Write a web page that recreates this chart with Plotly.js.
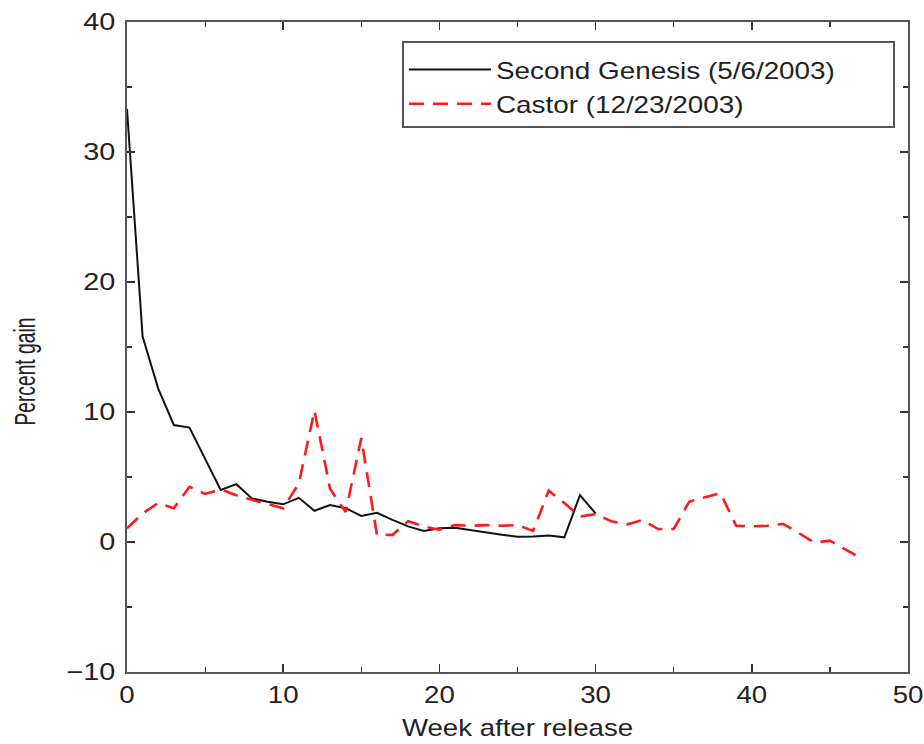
<!DOCTYPE html>
<html>
<head>
<meta charset="utf-8">
<script src="https://cdn.plot.ly/plotly-3.0.1.min.js"></script>
<style>html,body{margin:0;padding:0;background:#fff;}#chart{width:924px;height:744px;}</style>
</head>
<body>
<div id="chart"></div>
<script>
const genesisWeeks = [0,1,2,3,4,5,6,7,8,9,10,11,12,13,14,15,16,17,18,19,20,21,22,23,24,25,26,27,28,29,30];
const genesisGain  = [33.3,15.8,11.8,9.0,8.8,6.4,4.0,4.45,3.35,3.1,2.9,3.4,2.4,2.85,2.6,2.0,2.25,1.7,1.2,0.85,1.05,1.1,0.9,0.75,0.55,0.4,0.42,0.5,0.36,3.6,2.2];
const castorWeeks  = [0,1,2,3,4,5,6,7,8,9,10,11,12,13,14,15,16,17,18,19,20,21,22,23,24,25,26,27,28,29,30,31,32,33,34,35,36,37,38,39,40,41,42,43,44,45,46,47];
const castorGain   = [1.05,2.2,3.0,2.6,4.25,3.7,4.05,3.6,3.25,2.9,2.6,4.5,10.1,4.1,2.3,8.0,0.55,0.55,1.6,1.2,0.95,1.3,1.25,1.3,1.25,1.3,0.85,3.95,3.0,1.95,2.15,1.6,1.35,1.7,1.0,1.0,3.1,3.45,3.75,1.25,1.2,1.25,1.4,0.7,-0.05,0.1,-0.6,-1.25];
const seriesNames  = ["Second Genesis (5/6/2003)", "Castor (12/23/2003)"];
const xTitle = "Week after release";
const yTitle = "Percent gain";

const fam = "Liberation Sans, Arial, sans-serif";
const ink = "#222";
const tickFont = {family: fam, size: 24, color: ink};
const traces = [
  {x: genesisWeeks, y: genesisGain, name: seriesNames[0], mode: "lines",
   line: {color: "#111", width: 2}},
  {x: castorWeeks, y: castorGain, name: seriesNames[1], mode: "lines",
   line: {color: "#ff1a1a", width: 2.6, dash: "15px,9px"}}
];
const axisCommon = {
  showgrid: false, zeroline: false, showline: true, linecolor: "#555", linewidth: 2,
  mirror: "ticks", ticks: "inside", ticklen: 8, tickwidth: 1.5, tickcolor: "#333",
  tickfont: tickFont,
  minor: {ticks: "inside", ticklen: 5, tickwidth: 1.2, tickcolor: "#333", showgrid: false}
};
const layout = {
  width: 924, height: 744,
  margin: {l: 127, r: 16, t: 22, b: 72},
  paper_bgcolor: "#fff", plot_bgcolor: "#fff",
  font: tickFont,
  showlegend: true,
  legend: {x: 0.352, y: 0.964, xanchor: "left", yanchor: "top",
           bgcolor: "#fff", bordercolor: "#555", borderwidth: 2,
           font: {family: fam, size: 24, color: ink}, tracegroupgap: 0, itemwidth: 82},
  xaxis: Object.assign({}, axisCommon, {
    range: [0, 50], dtick: 10, minor: Object.assign({}, axisCommon.minor, {dtick: 5}),
    title: {text: xTitle, font: {family: fam, size: 24, color: ink}, standoff: 12}
  }),
  yaxis: Object.assign({}, axisCommon, {
    range: [-10, 40], dtick: 10, minor: Object.assign({}, axisCommon.minor, {dtick: 5}),
    ticklabelstandoff: 5
  }),
  annotations: [{
    text: yTitle, xref: "paper", yref: "paper", x: -0.1306, y: 0.4615,
    xanchor: "center", yanchor: "middle", textangle: -90, showarrow: false,
    font: {family: fam, size: 29, color: ink}
  }]
};

function stretch(selector, factor, fixedLen) {
  document.querySelectorAll(selector).forEach(function (t) {
    const len = t.getComputedTextLength();
    if (!len) return;
    t.setAttribute("lengthAdjust", "spacingAndGlyphs");
    t.setAttribute("textLength", fixedLen ? fixedLen : len * factor);
  });
}

Plotly.newPlot("chart", traces, layout, {displayModeBar: false, staticPlot: true}).then(function () {
  stretch("#chart .xtick text", 1.15);
  stretch("#chart .ytick text", 1.2);
  stretch("#chart .g-xtitle text", 1.15);
  stretch("#chart .annotation-text", 1, 108);
  stretch("#chart .legend text.legendtext", 1.16);
  // widen the legend frame so the stretched labels fit, like the original box
  const boxW = 491, boxH = 85;
  document.querySelectorAll("#chart .legend rect.bg").forEach(function (r) {
    r.setAttribute("y", -3);
    r.setAttribute("width", boxW);
    r.setAttribute("height", boxH);
  });
  document.querySelectorAll("#chart clipPath").forEach(function (cp) {
    if (cp.id && cp.id.indexOf("legend") >= 0) {
      cp.querySelectorAll("rect").forEach(function (r) {
        r.setAttribute("y", -3);
        r.setAttribute("width", boxW);
        r.setAttribute("height", boxH);
      });
    }
  });
});
</script>
</body>
</html>
